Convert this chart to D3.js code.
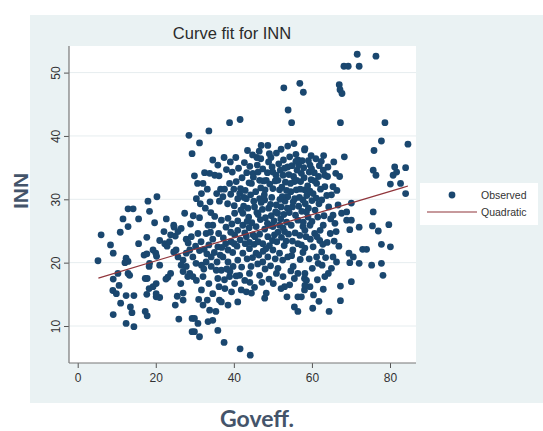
<!DOCTYPE html>
<html>
<head>
<meta charset="utf-8">
<script src="https://cdn.jsdelivr.net/npm/d3@7"></script>
<style>
  body { margin: 0; background: #fff; }
  text { font-family: "Liberation Sans", Arial, sans-serif; }
</style>
</head>
<body>
<script>
// Goveff. (x) vs INN (y)
var observed = [
  [6.0,24.4],[5.2,20.3],[8.4,22.8],[9.1,21.5],[10.9,24.8],[11.6,26.9],[12.9,28.5],[14.2,28.5],[12.9,25.7],[15.6,26.9],
  [18.0,29.7],[20.3,30.4],[18.4,28.1],[17.7,24.0],[15.6,23.0],[12.4,20.7],[12.9,20.2],[12.1,20.0],[10.3,18.3],[12.9,18.3],
  [13.3,18.0],[9.1,17.4],[10.6,16.4],[9.0,15.6],[9.9,15.1],[12.4,14.8],[14.4,14.8],[11.0,13.6],[9.1,11.8],[13.5,13.0],
  [13.9,12.1],[12.4,10.4],[14.4,9.9],[17.3,12.3],[17.8,11.6],[17.7,15.0],[18.3,15.9],[19.3,16.2],[20.1,16.7],[20.1,14.6],
  [21.0,14.5],[17.3,17.5],[17.8,17.5],[18.3,19.4],[18.4,19.9],[17.0,21.2],[17.7,21.4],[19.3,22.0],[20.0,21.5],[20.2,21.0],
  [21.0,19.6],[21.0,23.5],[22.3,23.0],[22.1,24.9],[22.7,26.9],[24.6,25.9],[24.7,25.6],[22.9,22.6],[23.5,23.3],[25.0,24.2],
  [25.7,24.9],[26.5,25.4],[27.4,27.8],[27.8,23.7],[28.3,23.1],[25.2,22.0],[25.7,20.9],[27.0,20.4],[26.5,19.6],[27.8,19.4],
  [27.0,18.6],[28.2,17.8],[23.8,18.3],[23.1,17.7],[22.6,17.4],[26.4,16.7],[27.0,15.2],[27.0,14.1],[25.5,14.7],[25.0,13.3],
  [25.9,11.1],[29.3,11.2],[29.3,9.1],[20.1,15.1],[19.7,26.3],[23.8,24.4],[24.6,21.7],[27.8,21.5],
  [38.9,42.1],[41.6,42.6],[53.9,44.1],[54.8,42.1],[33.6,40.8],[28.5,40.1],[31.2,38.9],[29.3,37.2],[29.9,33.7],[32.5,34.2],
  [33.8,34.1],[35.1,33.8],[36.2,33.7],[35.9,35.4],[37.5,36.6],[32.1,32.5],[31.7,30.9],[36.6,31.6],[37.6,31.6],[38.9,32.5],
  [39.6,34.3],[37.2,30.4],[36.3,29.7],[41.0,30.1],[41.5,30.9],[43.2,30.1],[44.5,32.5],[44.9,34.1],[46.2,34.3],[46.6,33.0],
  [45.9,36.6],[47.0,38.5],[48.7,38.5],[49.1,37.2],[48.9,35.9],[50.9,37.3],[50.0,34.3],[48.3,33.0],[48.0,31.5],[50.0,31.7],
  [51.7,31.5],[51.3,33.0],[52.6,33.8],[53.8,35.1],[54.3,36.7],[53.8,38.4],[55.4,38.8],[56.4,36.2],[58.1,37.8],[57.3,34.1],
  [55.5,32.8],[56.0,31.5],[58.1,31.5],[57.7,29.9],[53.8,30.4],[53.7,28.6],[52.1,28.8],[50.9,29.1],[47.9,29.9],[46.6,30.1],
  [45.3,28.8],[43.6,28.6],[42.3,27.8],[40.2,27.8],[38.5,27.0],[36.8,26.7],[35.1,27.3],[34.6,25.9],[31.2,27.1],[33.4,25.9],
  [32.9,24.6],[30.8,24.6],[29.1,24.1],[28.7,22.0],[29.5,20.9],[28.7,18.3],[29.5,17.8],[31.7,19.6],[32.9,20.1],[34.2,19.4],
  [35.5,18.8],[34.2,20.9],[35.9,22.5],[37.2,20.9],[38.5,22.0],[39.3,23.3],[40.2,24.4],[41.0,25.1],[42.3,25.9],[43.2,24.1],
  [44.9,24.4],[45.7,25.7],[46.2,23.3],[47.4,23.0],[48.7,24.1],[50.4,24.4],[50.0,25.7],[51.7,25.9],[53.0,24.9],[54.7,25.9],
  [56.4,26.7],[57.7,25.7],[59.0,27.2],[58.5,24.1],[56.4,23.0],[55.1,22.0],[53.8,20.9],[51.7,21.5],[50.0,22.0],[48.7,20.9],
  [47.4,20.1],[45.7,21.5],[44.0,22.2],[42.3,21.5],[41.0,20.4],[39.8,19.4],[38.5,20.1],[36.8,18.8],[35.9,17.5],[37.6,17.3],
  [38.9,17.8],[40.2,16.7],[41.5,18.0],[44.0,18.3],[46.6,18.0],[41.9,15.7],[43.2,15.4],[44.5,15.2],[48.3,15.2],[47.9,14.4],
  [50.9,18.3],[51.3,19.1],[52.6,17.8],[53.0,16.2],[54.3,16.5],[55.5,17.5],[56.4,18.3],[58.1,17.5],[58.1,15.7],[56.4,14.6],
  [55.5,13.0],[56.4,12.3],[52.1,15.9],[32.1,17.8],[30.4,17.2],[31.7,15.7],[34.6,15.1],[36.3,14.1],[36.8,13.8],[38.5,13.3],
  [41.0,13.8],[32.1,13.3],[33.8,12.5],[33.4,10.7],[34.6,10.9],[29.9,11.2],[30.8,10.4],[29.9,9.1],[31.2,8.3],[35.9,9.3],
  [37.5,7.4],[41.6,6.4],[44.2,5.4],
  [71.6,52.9],[76.4,52.6],[68.2,51.0],[69.3,51.0],[72.1,51.0],[56.9,48.3],[57.8,46.9],[52.8,47.6],[67.0,48.1],[67.2,47.3],
  [67.7,46.7],[67.3,42.1],[78.7,42.1],[77.8,39.2],[75.9,37.7],[84.6,38.7],[68.3,36.7],[58.2,38.0],[61.0,36.4],[59.5,35.4],
  [59.3,34.3],[63.3,33.8],[64.0,33.6],[66.1,34.1],[67.1,33.6],[65.4,32.0],[63.3,32.0],[61.2,32.5],[60.3,30.9],[62.5,29.9],
  [65.0,30.7],[66.7,29.1],[70.1,29.4],[65.4,27.5],[68.9,28.0],[68.9,26.7],[70.1,26.7],[69.7,25.2],[72.1,25.6],[75.7,34.6],
  [76.4,33.8],[75.7,28.0],[75.5,25.8],[77.0,25.0],[79.7,26.0],[81.2,35.1],[81.7,34.3],[80.8,33.8],[80.1,32.4],[82.7,32.5],
  [84.0,35.0],[84.0,30.9],[77.8,22.9],[80.1,22.5],[73.0,22.1],[74.0,22.1],[69.5,21.5],[70.6,20.9],[69.7,20.0],[72.1,19.9],
  [75.3,19.6],[77.8,19.9],[78.2,18.0],[70.1,17.0],[67.3,16.3],[67.3,14.0],[64.4,12.3],[60.2,12.8],[62.9,15.8],[59.5,16.2],
  [65.4,20.9],[66.3,20.1],[65.0,19.1],[64.2,18.3],[61.2,20.9],[61.6,19.9],[62.5,21.7],[60.3,22.5],[58.2,22.3],[62.0,23.5],
  [60.7,24.6],[62.9,25.9],[59.5,25.9],[57.8,26.4],[65.9,26.2],[58.2,18.3],[58.6,17.2],[57.3,14.6],[58.2,16.4],
  [42.5,28.9],[43.8,27.2],[44.6,26.3],[45.1,29.7],[45.9,27.9],[46.8,26.8],[47.3,28.4],[48.1,27.1],[48.9,28.6],[49.6,27.4],
  [50.3,26.6],[51.2,27.8],[52.0,26.9],[52.8,27.6],[53.5,26.4],[54.2,27.9],[55.0,28.8],[55.8,27.5],[56.6,28.9],[57.4,28.1],
  [58.3,29.3],[59.1,28.6],[60.0,29.8],[60.8,28.3],[61.5,27.2],[42.9,31.4],[43.9,32.6],[45.6,31.2],[46.9,31.8],[47.6,32.9],
  [49.2,32.4],[50.6,32.9],[52.3,31.9],[53.2,32.7],[54.6,31.2],[55.3,33.6],[56.2,34.6],[57.1,32.8],[58.0,33.4],[58.9,32.1],
  [59.8,33.1],[60.6,34.2],[61.7,33.6],[62.2,31.6],[44.1,35.2],[46.0,35.4],[47.4,34.8],[49.8,35.1],[51.5,35.6],[52.7,36.2],
  [54.9,35.3],[55.9,37.1],[57.5,36.1],[59.8,36.9],[62.4,36.0],[42.8,24.7],[44.0,23.2],[45.2,22.9],[46.6,24.5],[47.9,25.3],
  [49.2,25.9],[49.9,23.5],[51.0,23.3],[52.2,24.0],[53.4,23.4],[54.0,24.5],[55.7,24.7],[56.9,24.3],[57.3,22.8],[59.6,23.7],
  [61.3,24.1],[43.4,26.5],[48.6,26.2],[50.7,28.0],[53.1,29.7],[55.6,30.1],[58.7,30.6],[61.1,30.2],[44.3,30.7],[47.0,29.5],
  [49.7,30.3],[52.4,30.4],[56.8,30.3],[59.5,31.3],[42.1,33.4],[45.0,33.5],[48.6,34.2],[51.9,34.6],[54.1,33.9],[56.6,35.4],
  [59.1,36.1],[61.9,35.3],[63.8,30.6],[64.3,28.8],[63.1,27.4],[64.7,24.6],[63.9,23.2],[62.8,22.9],[65.7,23.4],[66.9,22.6],
  [64.8,26.9],[66.2,24.9],[67.6,27.8],[66.4,31.4],[64.1,35.1],[63.0,36.9],[65.6,35.9],[52.1,37.9],[46.5,37.6],[44.8,37.0],
  [42.7,35.8],[41.2,34.9],[40.6,32.8],[41.7,31.7],[40.1,29.0],[41.8,28.3],[39.5,26.1],[41.0,26.6],[39.2,24.8],[38.0,25.6],
  [37.3,23.9],[36.1,24.6],[34.6,23.7],[33.6,22.8],[32.4,22.1],[31.2,21.9],[30.2,22.6],[33.1,21.4],[35.0,21.6],[36.5,21.2],
  [37.9,23.0],[38.2,19.0],[39.7,21.6],[40.8,22.6],[41.6,23.6],[42.9,23.0],[43.4,20.6],[44.8,20.8],[46.1,19.8],[47.5,21.8],
  [49.1,22.7],[49.4,19.5],[50.6,20.6],[52.5,20.4],[52.9,22.7],[54.8,21.1],[55.2,19.4],[57.0,20.5],[57.7,21.6],[59.3,20.6],
  [60.1,19.1],[62.6,19.6],[63.5,20.8],[63.3,17.8],[61.4,17.3],[60.4,14.9],[61.8,13.9],[54.6,18.7],[53.6,14.6],[50.1,16.7],
  [49.0,17.4],[47.2,16.9],[45.3,16.1],[44.1,16.9],[42.8,17.2],[40.6,17.9],[39.4,15.4],[37.7,15.9],[33.6,16.7],[33.2,14.1],
  [35.4,12.3],[36.2,16.2],[31.0,14.2],[30.3,19.9],[31.6,23.3],[34.1,27.9],[32.7,28.6],[33.9,29.6],[35.6,30.9],[38.4,29.3],
  [39.2,30.8],[40.0,31.6],[42.6,30.3],[38.1,34.7],[39.1,35.9],[40.5,36.6],[43.5,37.7],[33.2,31.6],[30.4,30.1],[31.4,29.3],
  [29.6,27.4],[28.9,26.1],[30.7,32.5],[34.6,36.2],
  [46.2,27.6],[47.8,30.7],[49.4,29.2],[51.8,30.0],[53.0,34.9],[54.5,32.5],[55.9,36.0],[57.9,35.0],[55.2,29.6],[57.0,31.6],
  [58.6,28.0],[59.9,34.8],[60.7,32.9],[61.8,29.3],[62.9,34.6],[62.1,25.1],[60.0,26.5],[58.2,25.1],[55.0,23.4],[52.6,25.5],
  [51.3,24.8],[48.2,22.2],[46.4,21.2],[43.9,25.5],[45.4,24.1],[40.1,23.0],[36.9,22.4],[34.0,24.8],[32.3,19.0],[35.7,20.1],
  [39.0,18.6],[42.0,19.3],[44.4,19.4],[48.0,19.0],[50.8,33.8],[46.9,36.4],[43.3,34.2],[49.5,36.6],[53.5,31.4],[56.1,33.0]
];

// quadratic fit, points
var fitX = [5.3, 25, 45, 65, 84.6];
var fitY = [17.55, 21.2, 24.85, 28.5, 32.1];

var xTicks = [0, 20, 40, 60, 80];
var yTicks = [10, 20, 30, 40, 50];

var W = 543, H = 431;
var navy = "#1a476f", maroon = "#90353b";

var svg = d3.select("body").append("svg")
  .attr("width", W)
  .attr("height", H);

// graph region and plot region
svg.append("rect").attr("x", 30).attr("y", 15).attr("width", W - 30).attr("height", 388)
  .style("fill", "#eaf2f3");
svg.append("rect").attr("x", 69).attr("y", 46).attr("width", 347).attr("height", 317)
  .style("fill", "#fff");

var x = d3.scaleLinear().domain([0, 80]).range([77.7, 390]);
var y = d3.scaleLinear().domain([10, 50]).range([326, 72.6]);

// grid
svg.append("g").selectAll("line").data(yTicks).enter().append("line")
  .attr("x1", 69).attr("x2", 416)
  .attr("y1", function(d){ return y(d); })
  .attr("y2", function(d){ return y(d); })
  .style("stroke", "#e6edef")
  .style("stroke-width", 1);

// axes
var yAxis = svg.append("g")
  .attr("transform", "translate(69,0)")
  .call(d3.axisLeft(y).tickValues(yTicks).tickSize(5).tickSizeOuter(0));
yAxis.select(".domain").remove();
yAxis.append("line").attr("class", "axisline")
  .attr("x1", 0).attr("x2", 0).attr("y1", 46).attr("y2", 363);
yAxis.selectAll("text")
  .attr("transform", "rotate(-90)")
  .attr("x", 0).attr("y", -9).attr("dy", 0)
  .style("text-anchor", "middle");

var xAxis = svg.append("g")
  .attr("transform", "translate(0,363)")
  .call(d3.axisBottom(x).tickValues(xTicks).tickSize(5).tickSizeOuter(0));
xAxis.select(".domain").remove();
xAxis.append("line").attr("class", "axisline")
  .attr("x1", 69).attr("x2", 416).attr("y1", 0).attr("y2", 0);
xAxis.selectAll("text").attr("y", 10).attr("dy", "0.71em");

svg.selectAll(".tick line").style("stroke", "#555");
svg.selectAll(".axisline").style("stroke", "#777").style("stroke-width", 1.2);
svg.selectAll(".tick text").style("font-size", "12px").style("fill", "#333")
  .style("font-family", "'Liberation Sans', Arial, sans-serif");

// observed points
svg.append("g").selectAll("circle").data(observed).enter().append("circle")
  .attr("cx", function(d){ return x(d[0]); })
  .attr("cy", function(d){ return y(d[1]); })
  .attr("r", 3.4)
  .style("fill", navy);

// fitted curve
var line = d3.line()
  .x(function(d){ return x(d[0]); })
  .y(function(d){ return y(d[1]); })
  .curve(d3.curveMonotoneX);
svg.append("path")
  .datum(fitX.map(function(v, i){ return [v, fitY[i]]; }))
  .attr("d", line)
  .style("fill", "none")
  .style("stroke", maroon)
  .style("stroke-width", 1.2);

// title and axis titles
svg.append("text").attr("x", 232).attr("y", 39)
  .attr("text-anchor", "middle")
  .style("font-size", "16.5px").style("fill", "#2b2b2b")
  .text("Curve fit for INN");

svg.append("text")
  .attr("transform", "translate(28,191) rotate(-90)")
  .attr("text-anchor", "middle")
  .style("font-size", "21px").style("font-weight", "bold").style("fill", "#44546a")
  .text("INN");

svg.append("text").attr("x", 257).attr("y", 427)
  .attr("text-anchor", "middle")
  .style("font-family", "Lato, 'Open Sans', sans-serif")
  .style("font-size", "23px").style("font-weight", "bold").style("fill", "#44546a")
  .text("Goveff.");

// legend
var lg = svg.append("g");
lg.append("rect").attr("x", 420).attr("y", 183).attr("width", 118).attr("height", 42)
  .style("fill", "#fff");
lg.append("circle").attr("cx", 452).attr("cy", 195).attr("r", 3.4).style("fill", navy);
lg.append("line").attr("x1", 427).attr("x2", 477).attr("y1", 212).attr("y2", 212)
  .style("stroke", maroon).style("stroke-width", 1.2);
lg.append("text").attr("x", 481).attr("y", 199).style("font-size", "10.5px").style("fill", "#333").text("Observed");
lg.append("text").attr("x", 481).attr("y", 216).style("font-size", "10.5px").style("fill", "#333").text("Quadratic");
</script>
</body>
</html>
